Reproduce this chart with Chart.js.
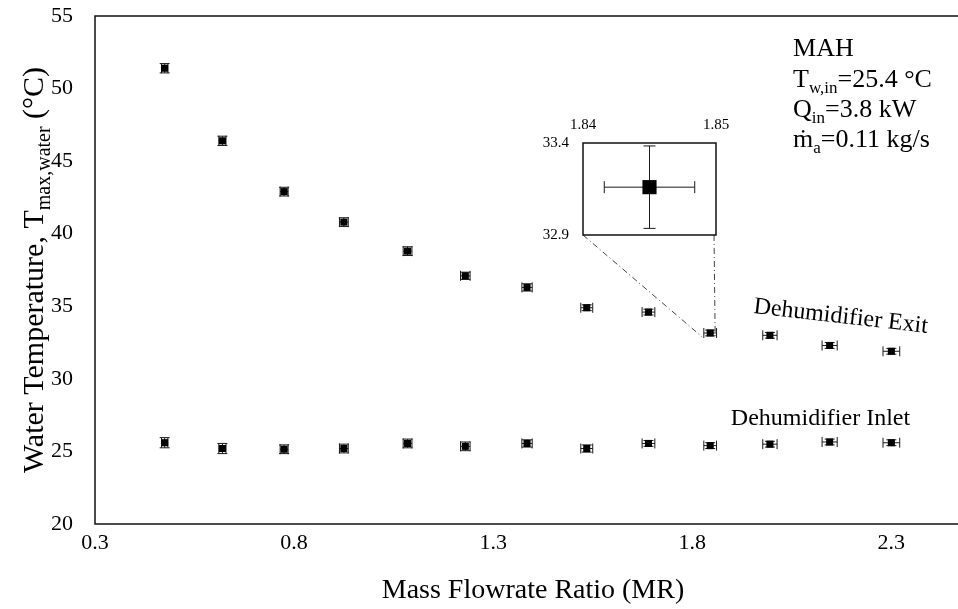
<!DOCTYPE html>
<html>
<head>
<meta charset="utf-8">
<title>Water temperature vs mass flowrate ratio</title>
<script src="https://cdn.jsdelivr.net/npm/chart.js@4.4.1/dist/chart.umd.min.js"></script>
<style>
  html, body { margin: 0; padding: 0; background: #fff; overflow: hidden; }
  #wrap { position: relative; width: 1000px; height: 609px; }
  #main { position: absolute; left: 0; top: 0; }
  #zoom { position: absolute; left: 520px; top: 100px; }
</style>
</head>
<body>
<div id="wrap">
  <canvas id="main" width="1000" height="609"></canvas>
  <canvas id="zoom" width="215" height="145"></canvas>
</div>
<script>
// measured points
const massFlowRatio = [0.475, 0.62, 0.775, 0.925, 1.085, 1.23, 1.385, 1.535, 1.69, 1.845, 1.995, 2.145, 2.3];
const exitTemp = [51.4, 46.4, 42.9, 40.8, 38.8, 37.1, 36.3, 34.9, 34.6, 33.16, 33.0, 32.3, 31.9];
const inletTemp = [25.6, 25.2, 25.15, 25.2, 25.55, 25.35, 25.55, 25.2, 25.55, 25.4, 25.5, 25.65, 25.6];

// uncertainties (+/-)
const mrError = [0.008, 0.009, 0.010, 0.011, 0.011, 0.012, 0.013, 0.015, 0.016, 0.016, 0.018, 0.019, 0.021];
const exitError = [0.32, 0.32, 0.3, 0.3, 0.3, 0.25, 0.25, 0.2, 0.2, 0.2, 0.2, 0.2, 0.2];
const inletError = [0.35, 0.35, 0.3, 0.3, 0.3, 0.3, 0.25, 0.25, 0.2, 0.2, 0.2, 0.2, 0.2];

const xTicks = [0.3, 0.8, 1.3, 1.8, 2.3];
const yTicks = [20, 25, 30, 35, 40, 45, 50, 55];

// close-up of one exit point
const zoomIndex = 9;
const zoomXTicks = [1.84, 1.85];
const zoomYTicks = [32.9, 33.4];
const zoomMrError = [0.0034];
const zoomTempError = [0.224];

const SERIF = '"Liberation Serif", "Times New Roman", serif';

// text with subscripts: parts = [[text, isSub], ...]
function drawRich(ctx, parts, x, y, size, align) {
  const subSize = Math.round(size * 0.65);
  const widths = parts.map(([t, sub]) => {
    ctx.font = `${sub ? subSize : size}px ${SERIF}`;
    return ctx.measureText(t).width;
  });
  const total = widths.reduce((a, b) => a + b, 0);
  let cx = align === 'center' ? x - total / 2 : x;
  parts.forEach(([t, sub], i) => {
    ctx.font = `${sub ? subSize : size}px ${SERIF}`;
    ctx.fillText(t, cx, sub ? y + size * 0.22 : y);
    cx += widths[i];
  });
}

// scales should not reserve extra room for their edge labels
function noEdgePadding(s) {
  s.paddingTop = 0;
  s.paddingBottom = 0;
  s.paddingLeft = 0;
  s.paddingRight = 0;
}

const frame = {
  id: 'frame',
  beforeDatasetsDraw(chart) {
    const { ctx, chartArea: a } = chart;
    ctx.save();
    ctx.strokeStyle = '#111';
    ctx.lineWidth = 1.5;
    ctx.strokeRect(a.left, a.top, a.right - a.left, a.bottom - a.top);
    ctx.restore();
  }
};

const errorBars = {
  id: 'errorBars',
  beforeDatasetsDraw(chart) {
    const { ctx, scales: { x, y } } = chart;
    ctx.save();
    ctx.strokeStyle = '#1a1a1a';
    ctx.lineWidth = 1;
    chart.data.datasets.forEach((ds) => {
      const cap = ds.capSize || 4;
      ds.data.forEach((p, j) => {
        const px = x.getPixelForValue(p.x);
        const py = y.getPixelForValue(p.y);
        const x0 = x.getPixelForValue(p.x - ds.errX[j]);
        const x1 = x.getPixelForValue(p.x + ds.errX[j]);
        const y0 = y.getPixelForValue(p.y - ds.errY[j]);
        const y1 = y.getPixelForValue(p.y + ds.errY[j]);
        ctx.beginPath();
        ctx.moveTo(x0, py); ctx.lineTo(x1, py);
        ctx.moveTo(x0, py - cap); ctx.lineTo(x0, py + cap);
        ctx.moveTo(x1, py - cap); ctx.lineTo(x1, py + cap);
        ctx.moveTo(px, y0); ctx.lineTo(px, y1);
        ctx.moveTo(px - cap, y0); ctx.lineTo(px + cap, y0);
        ctx.moveTo(px - cap, y1); ctx.lineTo(px + cap, y1);
        ctx.stroke();
      });
    });
    ctx.restore();
  }
};

const pointStyle = {
  showLine: false,
  pointStyle: 'rect',
  backgroundColor: '#000',
  borderColor: '#000',
  borderWidth: 0,
};

// close-up chart
const zoomChart = new Chart(document.getElementById('zoom'), {
  type: 'scatter',
  data: {
    datasets: [{
      data: [{ x: massFlowRatio[zoomIndex], y: exitTemp[zoomIndex] }],
      errX: zoomMrError,
      errY: zoomTempError,
      capSize: 6,
      pointRadius: 10,
      ...pointStyle
    }]
  },
  options: {
    responsive: false,
    animation: false,
    events: [],
    layout: { padding: { top: 0, right: 19, bottom: 7, left: 0 } },
    plugins: { legend: { display: false }, tooltip: { enabled: false } },
    scales: {
      x: {
        type: 'linear', position: 'top', min: 1.84, max: 1.85, bounds: 'data',
        afterBuildTicks: s => { s.ticks = zoomXTicks.map(v => ({ value: v })); },
        afterFit: s => { s.height = 43; noEdgePadding(s); },
        grid: { display: false, drawTicks: false },
        border: { display: false },
        ticks: { font: { family: SERIF, size: 15 }, color: '#000', padding: 9, maxRotation: 0, autoSkip: false, callback: v => v.toFixed(2) }
      },
      y: {
        min: 32.9, max: 33.4, bounds: 'data',
        afterBuildTicks: s => { s.ticks = zoomYTicks.map(v => ({ value: v })); },
        afterFit: s => { s.width = 63; noEdgePadding(s); },
        grid: { display: false, drawTicks: false },
        border: { display: false },
        ticks: { font: { family: SERIF, size: 15 }, color: '#000', padding: 14, autoSkip: false, callback: v => v.toFixed(1) }
      }
    }
  },
  plugins: [frame, errorBars]
});

const notes = {
  id: 'notes',
  afterDraw(chart) {
    const { ctx, chartArea: a, scales: { x, y } } = chart;
    ctx.save();
    ctx.fillStyle = '#000';
    ctx.textAlign = 'left';
    ctx.textBaseline = 'alphabetic';

    // y axis title
    ctx.save();
    ctx.translate(43, (a.top + a.bottom) / 2);
    ctx.rotate(-Math.PI / 2);
    drawRich(ctx, [['Water Temperature, T', false], ['max,water', true], [' (°C)', false]], 0, 0, 30, 'center');
    ctx.restore();

    // test conditions
    const lx = x.getPixelForValue(2.053);
    drawRich(ctx, [['MAH', false]], lx, y.getPixelForValue(52.24), 26);
    drawRich(ctx, [['T', false], ['w,in', true], ['=25.4 °C', false]], lx, y.getPixelForValue(50.11), 26);
    drawRich(ctx, [['Q', false], ['in', true], ['=3.8 kW', false]], lx, y.getPixelForValue(48.04), 26);
    drawRich(ctx, [['ṁ', false], ['a', true], ['=0.11 kg/s', false]], lx, y.getPixelForValue(45.97), 26);

    // series labels
    ctx.save();
    ctx.translate(x.getPixelForValue(2.171), y.getPixelForValue(33.85));
    ctx.rotate(6.5 * Math.PI / 180);
    drawRich(ctx, [['Dehumidifier Exit', false]], 0, 0, 24, 'center');
    ctx.restore();
    drawRich(ctx, [['Dehumidifier Inlet', false]], x.getPixelForValue(2.122), y.getPixelForValue(26.82), 24, 'center');

    // leader lines from the close-up box to its point
    const box = zoomChart.chartArea;
    const cv = zoomChart.canvas;
    const bl = cv.offsetLeft + box.left;
    const br = cv.offsetLeft + box.right;
    const bb = cv.offsetTop + box.bottom;
    const px = x.getPixelForValue(massFlowRatio[zoomIndex]);
    const py = y.getPixelForValue(exitTemp[zoomIndex]);
    ctx.strokeStyle = '#444';
    ctx.lineWidth = 1;
    ctx.setLineDash([6, 3, 1, 3]);
    ctx.beginPath();
    ctx.moveTo(bl, bb); ctx.lineTo(px - 8, py + 4);
    ctx.moveTo(br - 2, bb); ctx.lineTo(px + 5, py + 5);
    ctx.stroke();
    ctx.restore();
  }
};

const mainChart = new Chart(document.getElementById('main'), {
  type: 'scatter',
  data: {
    datasets: [
      {
        label: 'Dehumidifier Exit',
        data: massFlowRatio.map((v, i) => ({ x: v, y: exitTemp[i] })),
        errX: mrError,
        errY: exitError,
        capSize: 5,
        pointRadius: 5,
        ...pointStyle
      },
      {
        label: 'Dehumidifier Inlet',
        data: massFlowRatio.map((v, i) => ({ x: v, y: inletTemp[i] })),
        errX: mrError,
        errY: inletError,
        capSize: 5,
        pointRadius: 5,
        ...pointStyle
      }
    ]
  },
  options: {
    responsive: false,
    animation: false,
    events: [],
    layout: { padding: { top: 16, right: 29, bottom: 0, left: 0 } },
    plugins: { legend: { display: false }, tooltip: { enabled: false } },
    scales: {
      x: {
        type: 'linear', min: 0.3, max: 2.5, bounds: 'data',
        afterBuildTicks: s => { s.ticks = xTicks.map(v => ({ value: v })); },
        afterFit: s => { s.height = 85; noEdgePadding(s); },
        grid: { display: false, drawTicks: false },
        border: { display: false },
        ticks: { font: { family: SERIF, size: 22 }, color: '#000', padding: 6, maxRotation: 0, autoSkip: false, callback: v => v.toFixed(1) },
        title: { display: true, text: 'Mass Flowrate Ratio (MR)', font: { family: SERIF, size: 28 }, color: '#000', padding: { top: 0, bottom: 2 } }
      },
      y: {
        min: 20, max: 55, bounds: 'data',
        afterBuildTicks: s => { s.ticks = yTicks.map(v => ({ value: v })); },
        afterFit: s => { s.width = 95; noEdgePadding(s); },
        grid: { display: false, drawTicks: false },
        border: { display: false },
        ticks: { font: { family: SERIF, size: 22 }, color: '#000', padding: 22, autoSkip: false, callback: v => String(v) }
      }
    }
  },
  plugins: [frame, errorBars, notes]
});
</script>
</body>
</html>
